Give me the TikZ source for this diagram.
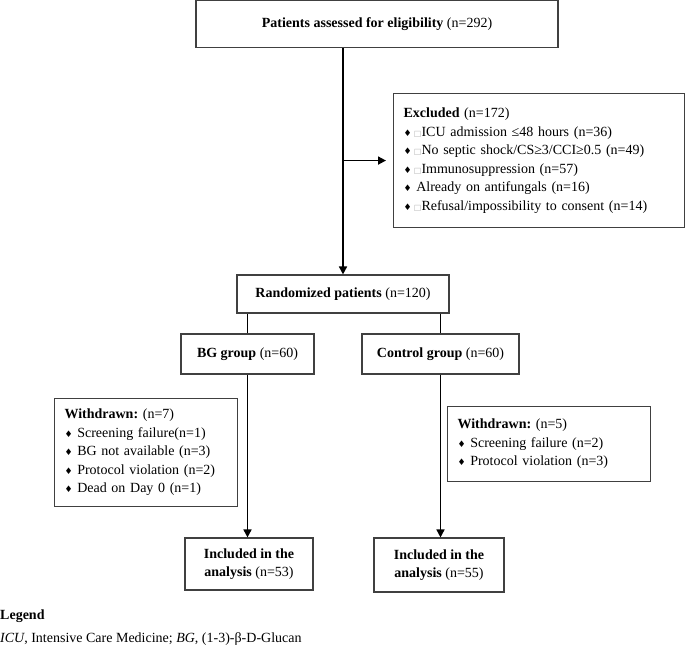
\documentclass[tikz,border=0pt]{standalone}
\usepackage{fontspec}
\setmainfont{Liberation Serif}
\newfontfamily\dejavu{DejaVu Sans}
\usetikzlibrary{arrows.meta}
\frenchspacing
\newcommand{\dia}{{\fontsize{9}{9}\dejavu ♦}}
\newcommand{\sq}{{\color{black!30}\fontsize{8}{8}\dejavu □}}

\begin{document}
\begin{tikzpicture}[x=1pt,y=-1pt,
box/.style={rectangle,draw=black!75,line width=1.1pt,inner sep=0pt,align=center,font=\fontsize{14}{18.5}\selectfont},
listbox/.style={box,align=left,inner xsep=10pt,anchor=north west},
edge/.style={-{Triangle[length=8pt,width=8pt]},line width=1.6pt},
link/.style={line width=1.6pt}]

\useasboundingbox (0,0) rectangle (685,655);

\node[box,minimum width=362pt,minimum height=47pt] (elig) at (377,24) {\textbf{Patients assessed for eligibility} (n=292)};

\node[listbox,text width=271pt,minimum height=134pt] (excl) at (393,93) {
\textbf{Excluded} (n=172)\\
\dia\,\sq ICU admission ≤48 hours (n=36)\\
\dia\,\sq No septic shock/CS≥3/CCI≥0.5 (n=49)\\
\dia\,\sq Immunosuppression (n=57)\\
\dia\ Already on antifungals (n=16)\\
\dia\,\sq Refusal/impossibility to consent (n=14)};

\node[box,minimum width=212pt,minimum height=38pt] (rand) at (343,294) {\textbf{Randomized patients} (n=120)};

\node[box,minimum width=133pt,minimum height=40pt] (bg) at (247.5,354) {\textbf{BG group} (n=60)};
\node[box,minimum width=157pt,minimum height=40pt] (ctrl) at (440.5,354) {\textbf{Control group} (n=60)};

\node[listbox,text width=163pt,minimum height=108pt] (wdbg) at (54,398) {
\textbf{Withdrawn:} (n=7)\\
\dia\ Screening failure(n=1)\\
\dia\ BG not available (n=3)\\
\dia\ Protocol violation (n=2)\\
\dia\ Dead on Day 0 (n=1)};

\node[listbox,text width=183pt,minimum height=75pt] (wdctrl) at (447,406) {
\textbf{Withdrawn:} (n=5)\\
\dia\ Screening failure (n=2)\\
\dia\ Protocol violation (n=3)};

\node[box,minimum width=128pt,minimum height=52pt] (inclbg) at (249,564) {\textbf{Included in the}\\ \textbf{analysis} (n=53)};
\node[box,minimum width=130pt,minimum height=54pt] (inclctrl) at (439,565) {\textbf{Included in the}\\ \textbf{analysis} (n=55)};

\draw[edge] (rand.north |- elig.south) -- (rand.north);
\draw[edge,shorten >=7pt] (rand.north |- excl.west) -- (excl.west);

\draw[link] (bg.north) -- (bg.north |- rand.south);
\draw[link] (ctrl.north) -- (ctrl.north |- rand.south);

\draw[edge] (bg.south) -- (bg.south |- inclbg.north);
\draw[edge] (ctrl.south) -- (ctrl.south |- inclctrl.north);

\node[anchor=west,inner sep=0pt,font=\fontsize{14}{17}\selectfont] (legend) at (0,616) {\textbf{Legend}};
\node[anchor=west,inner sep=0pt,font=\fontsize{14}{17}\selectfont] (abbr) at (0,639) {\textit{ICU}, Intensive Care Medicine; \textit{BG}, (1-3)-β-D-Glucan};

\end{tikzpicture}
\end{document}
